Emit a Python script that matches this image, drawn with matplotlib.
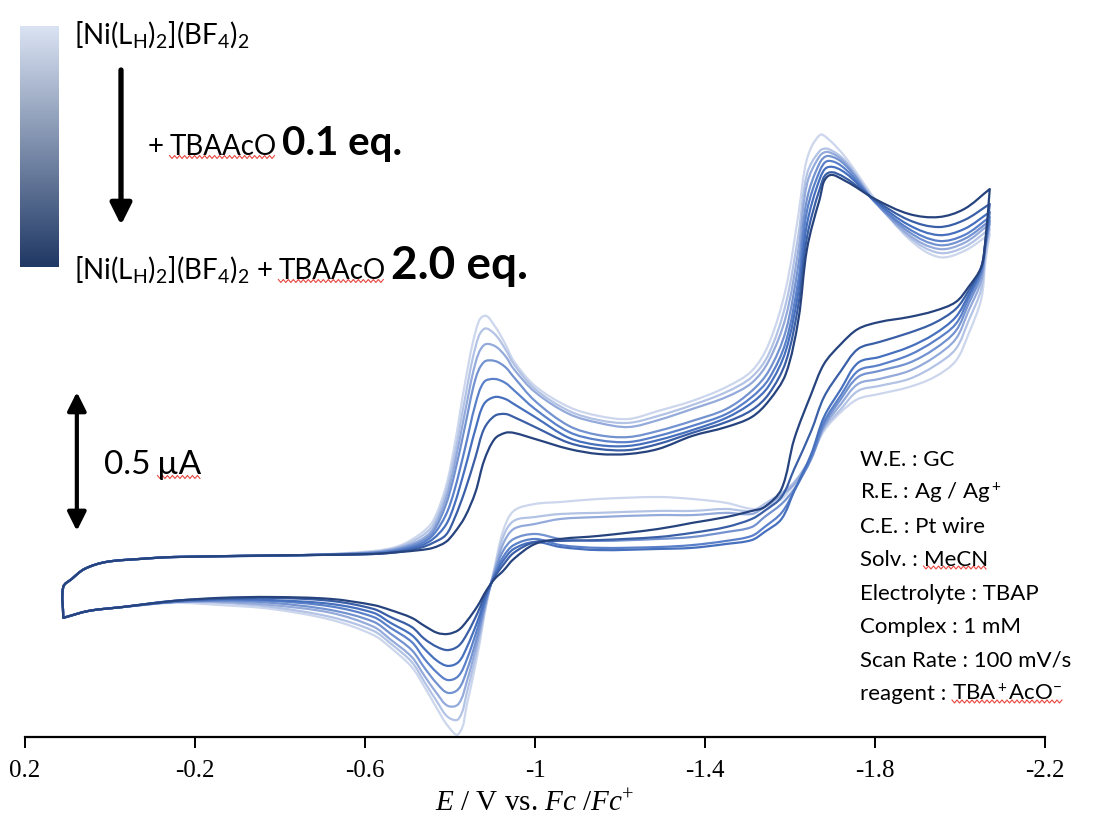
import numpy as np
import matplotlib
matplotlib.use('Agg')
import matplotlib.pyplot as plt
from matplotlib.colors import LinearSegmentedColormap
from matplotlib.path import Path
from matplotlib.patches import PathPatch

plt.rcParams['mathtext.fontset'] = 'custom'
plt.rcParams['mathtext.rm'] = 'Liberation Serif'
plt.rcParams['mathtext.it'] = 'Liberation Serif:italic'

SANS = 'Lato'
SERIF = 'Liberation Serif'

# potential (V vs Fc/Fc+) : cathodic sweep, then the return sweep
e_fwd = [0.11, 0.11, 0.09, 0.06, 0.01, -0.07, -0.15, -0.46, -0.62, -0.68,
         -0.73, -0.76, -0.79, -0.81, -0.835, -0.86, -0.88, -0.905, -0.93, -0.95,
         -1.00, -1.08, -1.15, -1.22, -1.29, -1.37, -1.45, -1.51, -1.55, -1.59,
         -1.62, -1.64, -1.67, -1.69, -1.73, -1.80, -1.88, -1.95, -2.01, -2.07]
e_rev = [-2.07, -2.06, -2.05, -2.02, -1.99, -1.94, -1.88, -1.81, -1.76, -1.72,
         -1.68, -1.65, -1.61, -1.58, -1.54, -1.51, -1.45, -1.37, -1.29, -1.15,
         -1.06, -1.00, -0.95, -0.925, -0.905, -0.885, -0.865, -0.84, -0.82, -0.795,
         -0.77, -0.74, -0.71, -0.66, -0.62, -0.52, -0.38, -0.26, -0.15, -0.03,
         0.05, 0.11]

# current (nA), complex alone -> 2.0 eq. TBAAcO
i_fwd = [
    [-155, -47, -18, 18, 43, 54, 61, 68, 83, 101, 144, 191, 313, 457, 684, 871, 929, 893, 828, 767,
     677, 601, 569, 558, 587, 623, 673, 731, 828, 1026, 1296, 1494, 1580, 1566, 1501, 1350, 1206, 1141, 1163, 1224],
    [-155, -47, -18, 18, 43, 54, 61, 68, 79, 97, 133, 176, 292, 421, 630, 817, 882, 864, 810, 756,
     666, 587, 554, 544, 569, 608, 655, 709, 792, 972, 1224, 1440, 1523, 1530, 1487, 1343, 1213, 1156, 1177, 1242],
    [-155, -47, -18, 18, 43, 54, 61, 68, 79, 94, 122, 162, 270, 389, 580, 760, 824, 821, 785, 738,
     655, 576, 544, 529, 554, 594, 637, 688, 767, 925, 1170, 1404, 1505, 1519, 1480, 1339, 1220, 1170, 1192, 1260],
    [-155, -47, -18, 18, 43, 54, 61, 68, 76, 90, 115, 151, 248, 356, 529, 702, 763, 767, 745, 709,
     623, 533, 500, 493, 515, 551, 594, 659, 731, 875, 1116, 1350, 1480, 1505, 1472, 1339, 1231, 1184, 1206, 1271],
    [-155, -47, -18, 18, 43, 54, 61, 68, 76, 86, 108, 140, 212, 299, 450, 612, 691, 702, 688, 662,
     594, 511, 482, 475, 497, 533, 576, 637, 702, 835, 1062, 1307, 1451, 1487, 1458, 1339, 1242, 1199, 1220, 1285],
    [-155, -47, -18, 18, 43, 54, 61, 68, 72, 83, 101, 126, 176, 248, 378, 522, 612, 637, 630, 612,
     565, 490, 464, 461, 482, 518, 562, 616, 677, 803, 1019, 1260, 1422, 1465, 1444, 1343, 1256, 1220, 1242, 1303],
    [-155, -47, -18, 18, 43, 54, 61, 68, 72, 79, 94, 112, 140, 198, 299, 421, 522, 569, 576, 565,
     529, 472, 450, 446, 468, 508, 547, 590, 648, 763, 972, 1213, 1386, 1444, 1426, 1346, 1274, 1249, 1274, 1332],
    [-155, -47, -18, 18, 43, 54, 61, 68, 72, 79, 86, 94, 115, 148, 205, 295, 407, 486, 508, 508,
     486, 450, 432, 432, 450, 497, 529, 565, 623, 720, 918, 1170, 1350, 1433, 1415, 1350, 1296, 1285, 1314, 1386],
]
i_rev = [
    [1224, 1127, 990, 864, 767, 709, 673, 648, 630, 583, 515, 421, 324, 270, 241, 234, 256, 270, 277, 270, 259,
     252, 227, 155, 25, -115, -288, -468, -576, -547, -486, -407, -335, -265, -220, -165, -126, -112, -104, -119, -133, -158],
    [1242, 1152, 1026, 911, 810, 749, 702, 677, 659, 594, 522, 421, 331, 292, 252, 227, 234, 227, 227, 220, 216,
     205, 191, 133, 18, -108, -263, -425, -522, -515, -461, -389, -317, -250, -205, -155, -119, -104, -101, -119, -133, -158],
    [1260, 1170, 1055, 947, 846, 781, 731, 702, 684, 612, 529, 421, 324, 284, 241, 216, 220, 212, 212, 205, 198,
     180, 162, 108, 11, -101, -241, -385, -468, -475, -432, -367, -299, -236, -190, -140, -112, -101, -101, -119, -133, -158],
    [1271, 1181, 1076, 972, 875, 810, 760, 731, 709, 630, 536, 414, 306, 252, 205, 169, 151, 133, 126, 119, 126,
     144, 126, 83, 4, -94, -220, -346, -414, -428, -396, -338, -274, -215, -172, -130, -104, -97, -101, -119, -133, -158],
    [1285, 1188, 1091, 990, 900, 839, 788, 752, 731, 644, 547, 421, 299, 220, 169, 137, 119, 104, 97, 94, 104,
     126, 104, 61, -4, -86, -194, -306, -367, -382, -356, -306, -245, -194, -155, -117, -97, -94, -101, -119, -133, -158],
    [1303, 1195, 1098, 1004, 925, 864, 817, 781, 760, 666, 565, 432, 299, 198, 151, 122, 108, 94, 90, 86, 97,
     115, 90, 47, -7, -79, -169, -263, -317, -331, -313, -270, -220, -176, -140, -108, -94, -90, -97, -119, -133, -158],
    [1332, 1199, 1105, 1019, 954, 904, 868, 835, 810, 731, 637, 515, 378, 277, 227, 198, 169, 148, 133, 122, 119,
     115, 76, 32, -11, -68, -140, -216, -259, -274, -263, -234, -191, -155, -126, -97, -86, -90, -97, -119, -133, -158],
    [1386, 1206, 1105, 1033, 979, 947, 925, 907, 882, 828, 756, 648, 486, 306, 241, 227, 205, 184, 162, 137, 126,
     108, 54, 11, -18, -61, -115, -169, -202, -216, -212, -187, -158, -130, -112, -90, -83, -86, -97, -119, -133, -158],
]
line_colors = ['#ccd6ec', '#b3c3e5', '#93aadb', '#7392d0', '#5a80c9', '#4670bd', '#3a5fa6', '#26437e']

xticks = [0.2, -0.2, -0.6, -1.0, -1.4, -1.8, -2.2]
xticklabels = ['0.2', '-0.2', '-0.6', '-1', '-1.4', '-1.8', '-2.2']

conditions = ['W.E. : GC', 'R.E. : Ag / Ag$\\mathregular{^+}$', 'C.E. : Pt wire', 'Solv. : ',
              'Electrolyte : TBAP', 'Complex : 1 mM', 'Scan Rate : 100 mV/s', 'reagent : ']


# smoothed line through the measured points (like Excel's "smoothed line")
def smooth_path(ax, xs, ys):
    pts = ax.transData.transform(np.column_stack([xs, ys]))
    n = len(pts)
    tang = np.zeros_like(pts)
    for i in range(n):
        d = pts[min(i + 1, n - 1)] - pts[max(i - 1, 0)]
        norm = np.hypot(d[0], d[1])
        if norm > 0:
            tang[i] = d / norm
    verts = [pts[0]]
    codes = [Path.MOVETO]
    for i in range(n - 1):
        seg = np.hypot(*(pts[i + 1] - pts[i])) / 3
        verts += [pts[i] + tang[i] * seg, pts[i + 1] - tang[i + 1] * seg, pts[i + 1]]
        codes += [Path.CURVE4] * 3
    return Path(ax.transData.inverted().transform(np.array(verts)), codes)


# ━━━━━━━━━━━━━━━━━━━━━━━━━━━━━━━━━━━━━━━━━━━━━━━━━━━━━━━━━━
# CV traces
# ━━━━━━━━━━━━━━━━━━━━━━━━━━━━━━━━━━━━━━━━━━━━━━━━━━━━━━━━━━
fig = plt.figure(figsize=(11.01, 8.28), dpi=100)
ax = fig.add_axes([25 / 1101, 90 / 828, 1020 / 1101, 638 / 828])
ax.set_xlim(0.2, -2.2)
ax.set_ylim(-587, 1710)

for fwd, rev, c in zip(i_fwd, i_rev, line_colors):
    path = smooth_path(ax, e_fwd + e_rev, fwd + rev)
    ax.add_patch(PathPatch(path, facecolor='none', edgecolor=c, lw=1.6,
                           joinstyle='round', capstyle='round'))

ax.tick_params(axis='x', direction='out', length=8, width=1.4, pad=8, labelsize=18)
ax.set_xticks(xticks)
ax.set_xticklabels(xticklabels, family=SERIF, fontsize=18)
ax.set_yticks([])
for side in ['left', 'right', 'top']:
    ax.spines[side].set_visible(False)
ax.spines['bottom'].set_linewidth(1.6)
ax.set_xlabel(r'$E$ / V vs. $Fc$ /$Fc$$^{+}$', family=SERIF, fontsize=21, labelpad=6)

# 0.5 uA scale bar
ax.annotate('', xy=(0.078, 655), xytext=(0.078, 155),
            arrowprops=dict(arrowstyle='<|-|>', lw=3, color='black',
                            mutation_scale=28, shrinkA=0, shrinkB=0))

# ━━━━━━━━━━━━━━━━━━━━━━━━━━━━━━━━━━━━━━━━━━━━━━━━━━━━━━━━━━
# Annotations (pixel layer)
# ━━━━━━━━━━━━━━━━━━━━━━━━━━━━━━━━━━━━━━━━━━━━━━━━━━━━━━━━━━
deco = fig.add_axes([0, 0, 1, 1])
deco.axis('off')

grad = np.linspace(0, 1, 256).reshape(-1, 1)
cmap = LinearSegmentedColormap.from_list('titr', ['#dae3f3', '#1f3864'])
deco.imshow(grad, cmap=cmap, extent=[20, 59, 268, 27], aspect='auto')
deco.set_xlim(0, 1101)
deco.set_ylim(828, 0)

deco.annotate('', xy=(121, 226), xytext=(121, 71),
              arrowprops=dict(arrowstyle='-|>', lw=3.8, color='black',
                              mutation_scale=32, shrinkA=0, shrinkB=0))


def after(prev, s, y, gap, **kw):
    return deco.annotate(s, xy=(1, y), xycoords=(prev, 'data'), xytext=(gap, 0),
                         textcoords='offset points', va='baseline', ha='left', **kw)


formula = r'$\mathregular{[Ni(L_H)_2](BF_4)_2}$'
deco.text(74, 44, formula, family=SANS, fontsize=20, va='baseline')

t = deco.text(148, 155, '+', family=SANS, fontsize=20, va='baseline')
wavy = [after(t, 'TBAAcO', 155, 4, family=SANS, fontsize=20)]
after(wavy[-1], '0.1 eq.', 155, 4, family=SANS, fontsize=29, weight='bold')

t = deco.text(74, 279, formula + ' +', family=SANS, fontsize=20, va='baseline')
wavy.append(after(t, 'TBAAcO', 279, 4, family=SANS, fontsize=20))
after(wavy[-1], '2.0 eq.', 279, 4, family=SANS, fontsize=33, weight='bold')

t = deco.text(104, 474, '0.5', family=SANS, fontsize=24, va='baseline')
wavy.append(after(t, 'µA', 474, 5, family=SANS, fontsize=24))

for k, s in enumerate(conditions):
    yb = 466 + 33.5 * k
    t = deco.text(860, yb, s, family=SANS, fontsize=16, va='baseline')
    if s.startswith('Solv'):
        wavy.append(after(t, 'MeCN', yb, 0, family=SANS, fontsize=16))
    if s.startswith('reagent'):
        wavy.append(after(t, r'TBA$\mathregular{^+}$AcO$\mathregular{^{-}}$', yb, 0,
                          family=SANS, fontsize=16))

# spell-check squiggles under the flagged words
fig.canvas.draw()
inv = deco.transData.inverted()
for w in wavy:
    bb = w.get_window_extent().transformed(inv)
    x0, x1 = min(bb.x0, bb.x1), max(bb.x0, bb.x1)
    yb = max(bb.y0, bb.y1) - 2
    xs = np.arange(x0, x1, 2.5)
    ys = yb + np.where(np.arange(len(xs)) % 2, 1.5, -1.5)
    deco.plot(xs, ys, color='#e8473f', lw=0.8)

fig.savefig('out.png', dpi=100)
